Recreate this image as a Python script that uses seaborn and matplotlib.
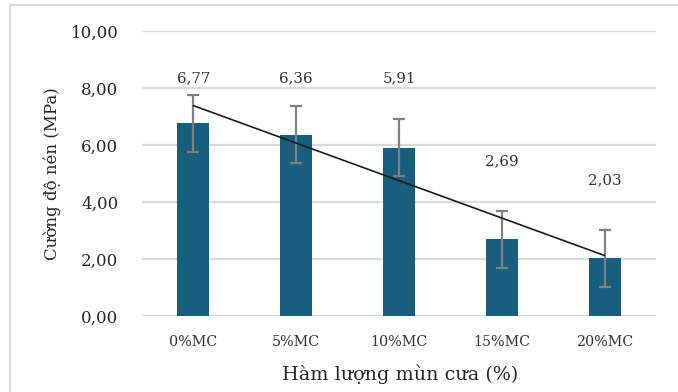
import matplotlib
matplotlib.use("Agg")
import matplotlib.pyplot as plt
from matplotlib.lines import Line2D
import seaborn as sns
import numpy as np
import pandas as pd

categories = ["0%MC", "5%MC", "10%MC", "15%MC", "20%MC"]
strength = [6.77, 6.36, 5.91, 2.69, 2.03]
errors = [1.0, 1.0, 1.0, 1.0, 1.0]
y_ticks = [0, 2, 4, 6, 8, 10]
y_tick_labels = ["0,00", "2,00", "4,00", "6,00", "8,00", "10,00"]
x_title = "Hàm lượng mùn cưa (%)"
y_title = "Cường độ nén (MPa)"

df = pd.DataFrame({"cat": categories, "val": strength, "pos": np.arange(len(categories))})

sns.set_theme(style="white")
plt.rcParams["font.family"] = ["DejaVu Serif"]

fig = plt.figure(figsize=(6.78, 3.92), dpi=100)
ax = fig.add_axes([142/678, 1-316/392, (656-142)/678, (316-31)/392])

grid_c = "#d9d9d9"
for t in y_ticks:
    ax.axhline(t, color=grid_c, lw=1.6, zorder=0)

bar_c = "#175e7f"
sns.barplot(data=df, x="cat", y="val", color=bar_c, width=0.31, saturation=1,
            ax=ax, zorder=2, errorbar=None, linewidth=0, edgecolor="none")
ax.errorbar(df["pos"], df["val"], yerr=errors, fmt="none", ecolor="#808080",
            elinewidth=1.6, capsize=4.5, capthick=1.6, zorder=3)
sns.regplot(data=df, x="pos", y="val", scatter=False, ci=None, ax=ax,
            line_kws={"color": "#1a1a1a", "lw": 1.2, "zorder": 4})

# data labels (Excel-style placement)
label_y = [8.35, 8.35, 8.35, 5.44, 4.77]
for i, (v, ly) in enumerate(zip(strength, label_y)):
    ax.text(i, ly, f"{v:.2f}".replace(".", ","), ha="center", va="center",
            fontsize=10.8, color="#333333", zorder=5)

ax.set_xlim(-0.5, 4.5)
ax.set_ylim(0, 10)
ax.set_yticks(y_ticks)
ax.set_yticklabels(y_tick_labels, fontsize=12, color="#262626")
ax.tick_params(axis="y", length=0, pad=17)
ax.tick_params(axis="x", length=0, pad=14, labelsize=10.3, labelcolor="#333333")
for s in ax.spines.values():
    s.set_visible(False)
ax.set_xlabel("")
ax.set_ylabel("")
fig.text(400/678, 1-374/392, x_title, ha="center", va="center", fontsize=13.8, color="#262626")
fig.text(52/678, 1-174/392, y_title, ha="center", va="center", rotation=90, fontsize=12, color="#262626")

# outer chart border (cropped)
fig.add_artist(Line2D([10/678, 1.0], [1-5/392, 1-5/392], color=grid_c, lw=1.5, transform=fig.transFigure))
fig.add_artist(Line2D([10/678, 10/678], [0, 1-5/392], color=grid_c, lw=1.5, transform=fig.transFigure))

fig.savefig("out.png", dpi=100)
